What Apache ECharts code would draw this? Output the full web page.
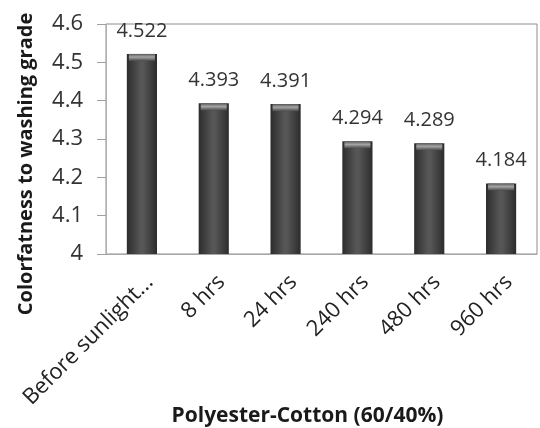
<!DOCTYPE html>
<html>
<head>
<meta charset="utf-8">
<script src="https://cdn.jsdelivr.net/npm/echarts@6/dist/echarts.min.js"></script>
<style>
  html, body { margin: 0; padding: 0; background: #fff; }
  #chart { width: 540px; height: 428px; }
</style>
</head>
<body>
<div id="chart"></div>
<script>
// Wash-fastness grade after increasing sunlight exposure
const categories = ['Before sunlight...', '8 hrs', '24 hrs', '240 hrs', '480 hrs', '960 hrs'];
const grades = [4.522, 4.393, 4.391, 4.294, 4.289, 4.184];
const yTicks = { min: 4, max: 4.6, step: 0.1 };

const FONT = '"Open Sans", Lato, sans-serif';

const chart = echarts.init(document.getElementById('chart'), null, { renderer: 'canvas' });

// cylinder-like shading across each bar
const barFill = new echarts.graphic.LinearGradient(0, 0, 1, 0, [
  { offset: 0, color: '#2c2c2c' },
  { offset: 0.45, color: '#565656' },
  { offset: 0.55, color: '#565656' },
  { offset: 1, color: '#2c2c2c' }
]);
// lighter rim at the top end of each bar
const capFill = new echarts.graphic.LinearGradient(0, 0, 0, 1, [
  { offset: 0, color: '#5a5a5a' },
  { offset: 0.45, color: '#a4a4a4' },
  { offset: 1, color: '#4a4a4a' }
]);

chart.setOption({
  animation: false,
  backgroundColor: '#ffffff',
  grid: {
    left: 106, right: 3, top: 24, bottom: 174,
    outerBoundsMode: 'none',
    containLabel: false,
    show: true, borderColor: '#8c8c8c', borderWidth: 1, backgroundColor: 'transparent'
  },
  xAxis: {
    type: 'category',
    data: categories,
    name: 'Polyester-Cotton (60/40%)',
    nameLocation: 'middle',
    nameGap: 152,
    nameMoveOverlap: false,
    nameTextStyle: {
      fontFamily: FONT, fontSize: 21, fontWeight: 'bold', color: '#1a1a1a',
      padding: [0, 28, 0, 0]
    },
    axisLine: { lineStyle: { color: '#a8a8a8' } },
    axisTick: { show: false },
    axisLabel: {
      rotate: 45, margin: 17, verticalAlign: 'top',
      fontFamily: FONT, fontSize: 22, color: '#222', interval: 0
    }
  },
  yAxis: {
    type: 'value',
    min: yTicks.min, max: yTicks.max, interval: yTicks.step,
    name: 'Colorfatness to washing grade',
    nameLocation: 'middle',
    nameGap: 70,
    nameMoveOverlap: false,
    nameTextStyle: {
      fontFamily: FONT, fontSize: 20, fontWeight: 'bold', color: '#1a1a1a',
      padding: [0, 50, 0, 0]
    },
    axisLine: { show: true, lineStyle: { color: '#b0b0b0' } },
    axisTick: { show: true, length: 9, lineStyle: { color: '#a0a0a0' } },
    splitLine: { show: false },
    axisLabel: {
      margin: 23, fontFamily: FONT, fontSize: 22, color: '#333',
      formatter: v => (Math.round(v * 10) / 10).toString()
    }
  },
  series: [{
    type: 'bar',
    data: grades,
    barWidth: '42%',
    itemStyle: { color: barFill },
    label: {
      show: true, position: 'top', distance: 13,
      fontFamily: FONT, fontSize: 20, color: '#333'
    },
    z: 2
  }, {
    type: 'pictorialBar',
    data: grades,
    symbol: 'rect',
    symbolSize: [26, 7],
    symbolPosition: 'end',
    symbolOffset: [0, 0],
    itemStyle: { color: capFill },
    silent: true,
    z: 3
  }]
});
</script>
</body>
</html>
